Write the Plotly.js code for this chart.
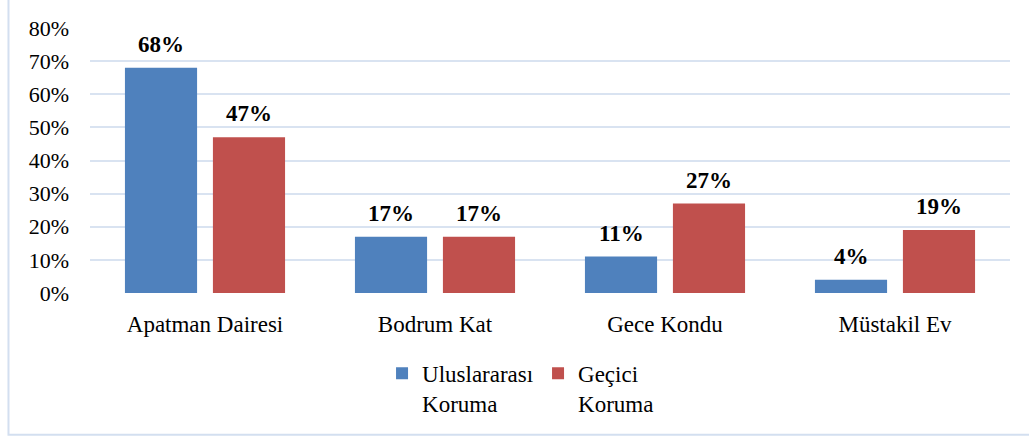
<!DOCTYPE html>
<html>
<head>
<meta charset="utf-8">
<script src="https://cdn.plot.ly/plotly-3.0.1.min.js"></script>
<style>
  html, body { margin: 0; padding: 0; background: #ffffff; }
  #chart { width: 1029px; height: 437px; }
</style>
</head>
<body>
<div id="chart"></div>
<script>
const categories = ["Apatman Dairesi", "Bodrum Kat", "Gece Kondu", "Müstakil Ev"];
const seriesNames = ["Uluslararası<br>Koruma", "Geçici<br>Koruma"];
const uluslararasi = [0.68, 0.17, 0.11, 0.04];
const gecici = [0.47, 0.17, 0.27, 0.19];
const yTickVals = [0, 0.1, 0.2, 0.3, 0.4, 0.5, 0.6, 0.7, 0.8];

const FONT = "Liberation Serif";
const colors = ["#4f81bd", "#c0504d"];
const series = [uluslararasi, gecici];

const traces = series.map((vals, k) => ({
  type: "bar",
  name: seriesNames[k],
  x: categories,
  y: vals,
  marker: { color: colors[k], line: { width: 0 } },
  hoverinfo: "skip"
}));

const annotations = [];
series.forEach((vals, k) => {
  vals.forEach((v, i) => {
    annotations.push({
      x: categories[i],
      y: v,
      xref: "x",
      yref: "y",
      text: "<b>" + Math.round(v * 100) + "%</b>",
      showarrow: false,
      xanchor: "center",
      yanchor: "bottom",
      xshift: k === 0 ? -44 : 44,
      yshift: 9,
      font: { family: FONT, size: 23, color: "#000000" }
    });
  });
});

const layout = {
  width: 1029,
  height: 437,
  margin: { l: 90, r: 19, t: 28, b: 144 },
  paper_bgcolor: "#ffffff",
  plot_bgcolor: "#ffffff",
  barmode: "group",
  bargap: 0.235,
  bargroupgap: 0.18,
  font: { family: FONT, size: 21, color: "#000000" },
  xaxis: {
    type: "category",
    showgrid: false,
    zeroline: false,
    showline: false,
    ticks: "",
    tickfont: { family: FONT, size: 23, color: "#000000" },
    ticklabelstandoff: 15
  },
  yaxis: {
    range: [0, 0.8],
    tickvals: yTickVals,
    tickformat: ".0%",
    showgrid: true,
    gridcolor: "#d9e3f1",
    gridwidth: 2,
    zeroline: false,
    showline: false,
    ticks: "",
    tickfont: { family: FONT, size: 22, color: "#000000" },
    ticklabelstandoff: 20
  },
  showlegend: true,
  legend: {
    orientation: "h",
    x: 0.487,
    xanchor: "center",
    y: -0.222,
    yanchor: "top",
    valign: "top",
    font: { family: FONT, size: 23, color: "#000000" },
    itemwidth: 30,
    entrywidth: 111,
    entrywidthmode: "pixels",
    bgcolor: "rgba(0,0,0,0)"
  },
  annotations: annotations,
  shapes: [{
    type: "rect",
    xref: "paper",
    yref: "paper",
    x0: -0.0886,
    x1: 1.05,
    y0: -0.535,
    y1: 1.2,
    line: { color: "#d3dff0", width: 2 },
    fillcolor: "rgba(0,0,0,0)",
    layer: "below"
  }]
};

Plotly.newPlot("chart", traces, layout, { displayModeBar: false, staticPlot: true });
</script>
</body>
</html>
